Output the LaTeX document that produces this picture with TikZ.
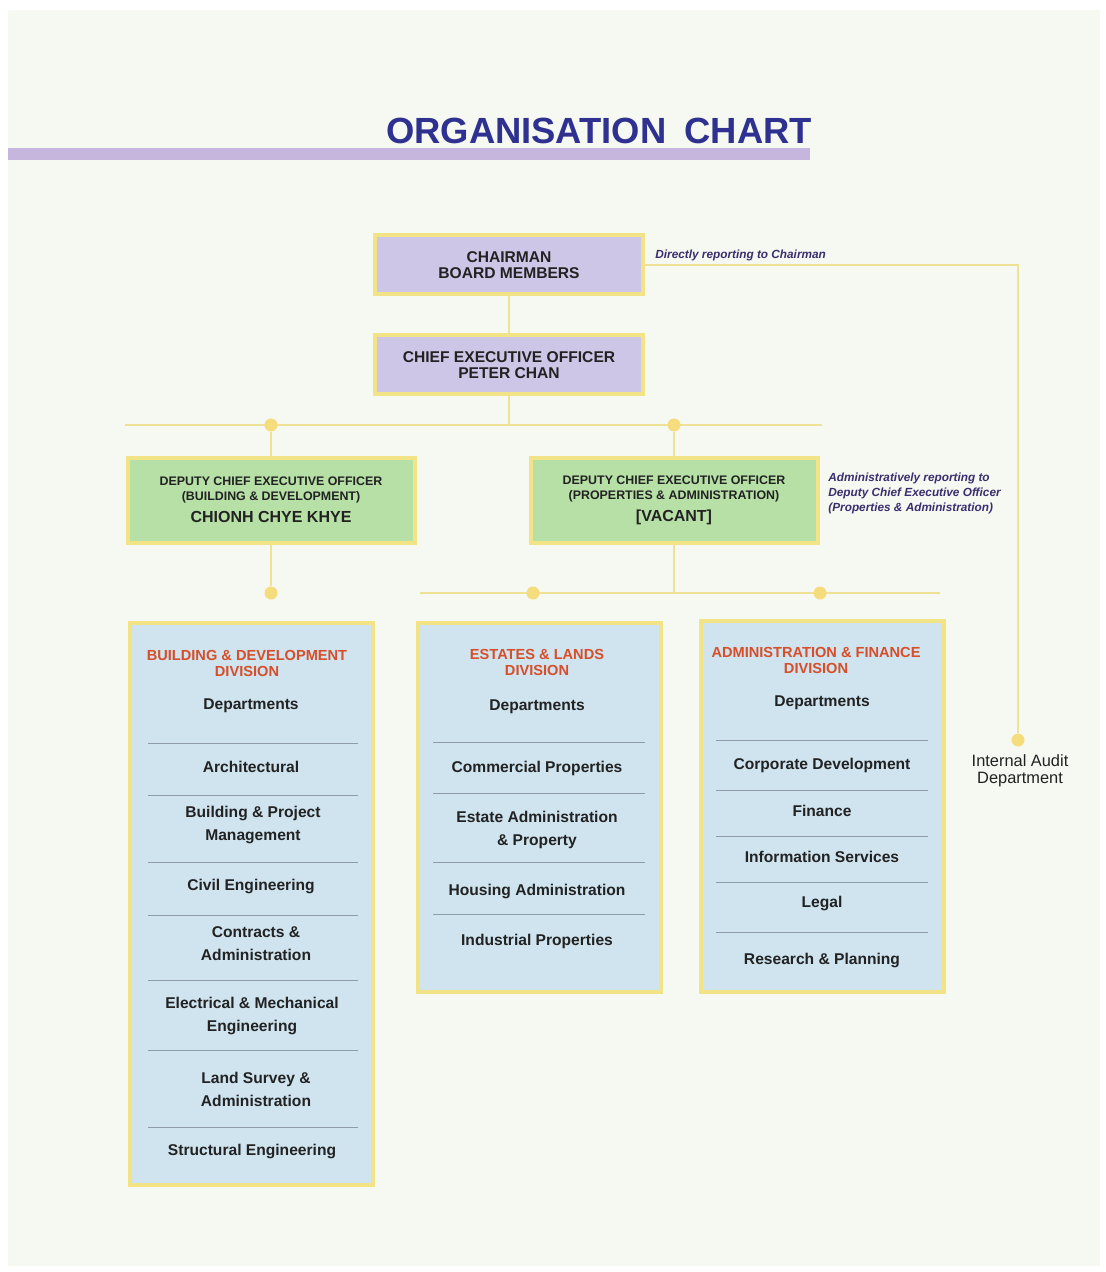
\documentclass[tikz,border=0pt]{standalone}
\usepackage{fontspec}
\setmainfont{Liberation Sans}
\usepackage{tikz}
\usetikzlibrary{calc}
\usetikzlibrary{positioning}

\definecolor{bgpale}{HTML}{F6F8F2}
\definecolor{titleblue}{HTML}{2E3190}
\definecolor{barlilac}{HTML}{C6B6DE}
\definecolor{boxlilac}{HTML}{CEC6E6}
\definecolor{boxgreen}{HTML}{B6E0A6}
\definecolor{boxblue}{HTML}{CFE4EF}
\definecolor{rimyellow}{HTML}{F2E486}
\definecolor{lineyellow}{HTML}{EFE195}
\definecolor{dotyellow}{HTML}{F5DC7C}
\definecolor{divred}{HTML}{D64E2A}
\definecolor{notepurple}{HTML}{3B2E6E}
\definecolor{splitgrey}{HTML}{8E9CA8}
\definecolor{inkgrey}{HTML}{222222}

\tikzset{
	topbox/.style={draw=rimyellow, line width=2pt, fill=boxlilac, minimum width=134pt, minimum height=29.5pt, align=center, text=inkgrey, font=\fontsize{7.8}{8}\selectfont\bfseries},
	dceobox/.style={draw=rimyellow, line width=2pt, fill=boxgreen, minimum width=143.5pt, minimum height=42.5pt, align=center, text=inkgrey, font=\fontsize{6.2}{7.5}\selectfont\bfseries},
	divbox/.style={draw=rimyellow, line width=2pt, fill=boxblue, minimum width=121.5pt, inner sep=0pt},
	divtitle/.style={text=divred, align=center, font=\fontsize{7.3}{8}\selectfont\bfseries},
	dept/.style={text=inkgrey, align=center, font=\fontsize{7.8}{11.5}\selectfont\bfseries},
	link/.style={draw=lineyellow, line width=1pt},
	joint/.style={circle, fill=dotyellow, minimum size=6.5pt, inner sep=0pt},
	note/.style={text=notepurple, align=left, anchor=west, inner sep=0pt, font=\fontsize{5.9}{7.5}\selectfont\bfseries\itshape},
	splitline/.style={draw=splitgrey, line width=0.4pt}
}

\begin{document}
\begin{tikzpicture}[x=0.5pt, y=-0.5pt]
	\useasboundingbox (0,0) rectangle (1106,1272);
	\fill[white] (0,0) rectangle (1106,1272);
	\fill[bgpale] (8,10) rectangle (1100,1266);
	
	% heading
	\node[text=titleblue, font=\fontsize{18.2}{20}\selectfont\bfseries] (title) at (599,131) {ORGANISATION\hspace{9pt}CHART};
	\fill[barlilac] (8,148) rectangle (810,160);
	
	% top of the chart
	\node[topbox] (chair) at (509,265) {CHAIRMAN\\BOARD MEMBERS};
	\node[topbox] (ceo) at (509,365) {CHIEF EXECUTIVE OFFICER\\PETER CHAN};
	\node[dceobox] (dceoB) at (271,500) {DEPUTY CHIEF EXECUTIVE OFFICER\\(BUILDING \& DEVELOPMENT)\\[3.5pt]{\fontsize{8}{9}\selectfont CHIONH CHYE KHYE}};
	\node[dceobox] (dceoP) at (674,500) {DEPUTY CHIEF EXECUTIVE OFFICER\\(PROPERTIES \& ADMINISTRATION)\\[3.5pt]{\fontsize{8}{9}\selectfont [VACANT]}};
	
	\node[note] (noteChair) at (655,255) {Directly reporting to Chairman};
	\node[note] (noteDceo) at (828,493) {Administratively reporting to\\Deputy Chief Executive Officer\\(Properties \& Administration)};
	
	% bus lines
	\coordinate (busL) at (125,425);
	\coordinate (busR) at (822,425);
	\coordinate (lowL) at (420,593);
	\coordinate (lowR) at (940,593);
	\draw[link] (busL) -- (busR);
	\draw[link] (lowL) -- (lowR);
	\draw[link] (chair) -- (ceo);
	\draw[link] (ceo) -- (ceo |- busL);
	
	\node[joint] (jB) at (271,425) {};
	\node[joint] (jP) at (674,425) {};
	\node[joint] (jDivB) at (271,593) {};
	\node[joint] (jDivE) at (533,593) {};
	\node[joint] (jDivA) at (820,593) {};
	\node[joint] (jAudit) at (1018,740) {};
	
	\draw[link] (jB) -- (dceoB);
	\draw[link] (jP) -- (dceoP);
	\draw[link] (dceoB) -- (jDivB);
	\draw[link] (dceoP) -- (dceoP |- lowL);
	\draw[link] (chair) -| (jAudit);
	
	\node[text=inkgrey, align=center, font=\fontsize{8.2}{8.5}\selectfont] (audit) at (1020,771) {Internal Audit\\Department};
	
	% divisions
	\node[divbox, minimum height=281pt] (divB) at (251.5,904) {};
	\node[divbox, minimum height=184.5pt] (divE) at (539,807.5) {};
	\node[divbox, minimum height=185.5pt] (divA) at (822.5,806.5) {};
	
	\foreach \y in {743,795,862,915,980,1050,1127}
		\draw[splitline] (148,\y) -- (358,\y);
	\foreach \y in {742,793,862,914}
		\draw[splitline] (433,\y) -- (645,\y);
	\foreach \y in {740,790,836,882,932}
		\draw[splitline] (716,\y) -- (928,\y);
	
	\node[divtitle] (titleB) at (247,663) {BUILDING \& DEVELOPMENT\\DIVISION};
	\node[dept] (bd0) at (251,706) {Departments};
	\node[dept] (bd1) at (251,767) {Architectural};
	\node[dept] (bd2) at (253,825) {Building \& Project\\Management};
	\node[dept] (bd3) at (251,886) {Civil Engineering};
	\node[dept] (bd4) at (256,944) {Contracts \&\\Administration};
	\node[dept] (bd5) at (252,1016) {Electrical \& Mechanical\\Engineering};
	\node[dept] (bd6) at (256,1089) {Land Survey \&\\Administration};
	\node[dept] (bd7) at (252,1151) {Structural Engineering};
	
	\node[divtitle] (titleE) at (537,662) {ESTATES \& LANDS\\DIVISION};
	\node[dept] (el0) at (537,707) {Departments};
	\node[dept] (el1) at (537,768) {Commercial Properties};
	\node[dept] (el2) at (537,830) {Estate Administration\\\& Property};
	\node[dept] (el3) at (537,891) {Housing Administration};
	\node[dept] (el4) at (537,941) {Industrial Properties};
	
	\node[divtitle] (titleA) at (816,660) {ADMINISTRATION \& FINANCE\\DIVISION};
	\node[dept] (af0) at (822,703) {Departments};
	\node[dept] (af1) at (822,765) {Corporate Development};
	\node[dept] (af2) at (822,811) {Finance};
	\node[dept] (af3) at (822,857) {Information Services};
	\node[dept] (af4) at (822,903) {Legal};
	\node[dept] (af5) at (822,960) {Research \& Planning};
\end{tikzpicture}
\end{document}
